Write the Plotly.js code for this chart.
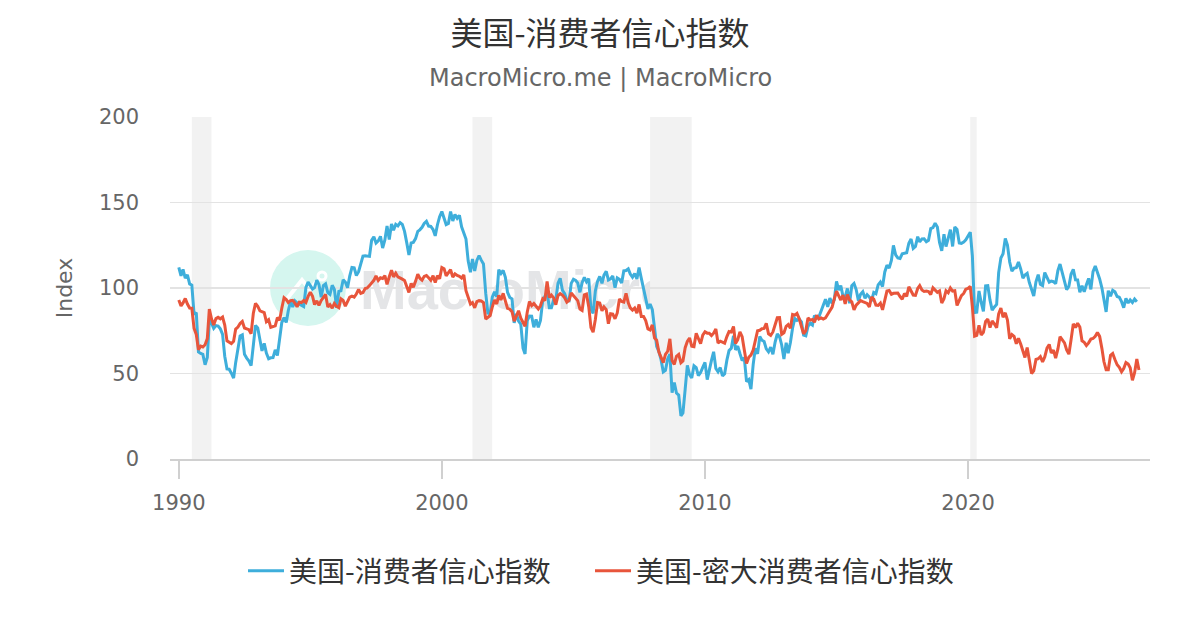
<!DOCTYPE html>
<html>
<head>
<meta charset="utf-8">
<script src="https://cdn.plot.ly/plotly-3.0.1.min.js"></script>
<style>
  html, body { margin:0; padding:0; background:#ffffff; }
  #wrap { position:relative; width:1200px; height:630px; }
  #wm { position:absolute; left:0; top:0; width:1200px; height:630px; z-index:0; pointer-events:none; }
  #wm .logo { position:absolute; left:270px; top:250px; width:76px; height:76px; border-radius:50%; background:#d5f6ef; }
  #wm .txt { position:absolute; left:360px; top:258px; line-height:64px; font-family:"Liberation Sans","DejaVu Sans",sans-serif; font-weight:bold; font-size:56px; color:#e4e5e7; }
  #chart { position:absolute; left:0; top:0; width:1200px; height:630px; z-index:1; }
</style>
</head>
<body>
<div id="wrap">
  <div id="wm">
    <div class="logo">
      <svg width="76" height="76" viewBox="0 0 76 76"><polyline points="16,50 32,30 40,40 46,32" fill="none" stroke="#ffffff" stroke-width="4"/><circle cx="52" cy="26" r="4" fill="none" stroke="#ffffff" stroke-width="3"/></svg>
    </div>
    <div class="txt">MacroMicro</div>
  </div>
  <div id="chart"></div>
</div>
<script>
// Monthly series starting January 1990
const startYear = 1990;
const seriesNames = ['美国-消费者信心指数', '美国-密大消费者信心指数'];

// Conference Board consumer confidence (blue)
const confBoard = [
  112.1,107.1,110.9,105.7,107.7,102.4,101.7,84.7,85.6,62.6,61.7,61.2,
  55.1,59.4,81.1,79.4,76.4,78.0,77.7,76.1,72.9,60.1,52.7,52.5,
  50.2,47.3,56.5,65.1,71.9,72.6,61.2,59.0,57.3,54.6,65.6,78.1,
  76.7,68.5,63.2,67.6,61.9,58.6,59.2,59.3,63.8,60.5,71.9,79.8,
  82.6,79.9,86.7,92.1,88.9,92.5,91.3,90.4,89.5,89.1,100.4,103.4,
  101.4,99.4,100.2,104.6,102.0,94.6,101.4,102.4,97.3,96.3,101.6,99.2,
  88.4,98.0,98.4,104.8,103.5,100.1,107.0,112.0,111.8,107.3,109.5,114.2,
  118.7,118.9,118.5,118.5,127.9,129.9,126.3,127.6,130.2,123.4,128.1,136.2,
  128.3,137.4,133.8,137.2,136.3,138.2,137.2,133.1,126.4,119.3,126.4,126.7,
  128.9,133.1,134.0,135.5,137.7,139.0,136.2,136.0,134.2,130.5,137.0,141.7,
  144.7,140.8,137.1,137.7,144.7,139.2,143.0,140.8,142.5,135.8,132.6,128.6,
  115.7,109.2,116.9,109.9,116.1,118.9,116.3,114.0,97.0,85.3,84.9,94.6,
  97.8,95.0,110.7,108.5,110.3,106.3,97.4,94.5,93.7,79.6,84.9,80.7,
  78.8,64.8,61.4,81.0,83.6,83.5,77.0,81.7,77.0,81.1,92.5,94.8,
  97.7,88.5,88.5,93.0,93.1,102.8,105.7,98.7,96.7,92.9,92.6,102.7,
  105.1,104.4,103.0,97.5,103.1,106.2,103.6,105.5,87.5,85.2,98.3,103.8,
  106.8,102.7,107.5,109.8,104.7,105.4,107.0,100.2,105.9,105.1,102.9,110.0,
  110.2,111.2,108.2,106.3,108.5,105.3,111.9,105.6,99.5,95.2,87.8,90.6,
  87.3,76.4,65.9,62.8,58.1,51.0,51.9,58.5,61.4,38.8,44.7,38.6,
  37.4,25.3,26.9,40.8,54.8,49.3,47.4,54.5,53.4,48.7,50.6,53.6,
  56.5,46.4,52.5,57.7,62.7,52.9,51.0,53.5,48.6,49.9,57.8,63.4,
  64.8,72.0,63.8,66.0,61.7,57.6,59.2,45.2,46.4,40.9,55.2,64.8,
  61.5,71.6,69.5,68.7,64.4,62.7,65.4,61.3,68.4,73.1,71.5,66.7,
  58.4,68.0,61.9,68.1,76.6,82.1,81.0,81.8,80.2,72.4,72.0,77.5,
  79.4,78.3,83.9,82.3,83.0,86.4,90.3,93.4,89.0,94.1,91.0,93.1,
  103.8,98.8,101.4,95.2,94.6,99.8,91.0,101.3,102.6,99.1,92.6,96.3,
  97.8,94.0,96.1,94.7,92.4,97.4,96.7,101.8,103.5,100.8,109.4,113.3,
  111.6,116.1,124.9,119.4,117.6,117.3,120.0,120.4,120.6,126.2,128.6,123.1,
  124.3,130.0,127.0,128.7,128.8,127.1,127.9,134.7,135.3,137.9,135.7,126.6,
  121.7,131.4,124.2,129.2,134.1,124.3,135.7,134.2,126.3,126.1,126.8,128.2,
  130.4,132.6,118.8,85.7,85.9,98.3,91.7,86.3,101.3,101.4,92.9,87.1,
  88.9,90.4,109.0,117.5,120.0,128.9,125.1,115.2,109.8,111.6,111.9,115.2,
  111.1,105.7,107.6,108.6,103.2,98.4,95.3,103.6,107.8,102.2,101.4,109.0,
  106.0,103.4,104.0,103.7,102.5,110.1,114.0,108.7,104.3,99.1,101.0,108.0,
  110.9,104.8,104.7,97.5,101.3,97.8,101.9,105.6,99.2,109.6,112.8,109.5,
  105.3,100.1,93.9,86.0,98.4,95.2,98.7,97.8,95.0,94.6,92.0,88.5,
  94.0,91.2,93.0,91.5,93.5,92.0
];

// University of Michigan consumer sentiment (red)
const umich = [
  93.0,89.5,91.3,93.9,90.6,88.3,88.2,76.4,72.8,63.9,66.0,65.5,
  66.8,70.4,87.7,81.8,78.3,82.1,82.9,82.0,83.0,78.3,69.1,68.2,
  67.5,68.8,76.0,77.2,79.2,80.4,76.6,76.1,75.6,73.3,85.3,91.0,
  89.3,86.6,85.9,85.6,80.3,81.5,77.0,77.3,77.9,82.7,81.2,88.2,
  94.3,93.2,91.5,92.6,92.8,91.2,89.0,91.7,91.5,92.7,91.6,95.1,
  97.6,95.1,90.3,92.5,89.8,92.7,94.4,96.2,88.9,90.2,88.2,91.0,
  89.3,88.5,93.7,92.7,89.4,92.4,94.7,95.3,94.7,96.5,99.2,96.9,
  97.4,99.7,100.0,101.4,103.2,104.5,107.1,104.4,106.0,105.6,107.2,102.1,
  106.6,110.4,106.5,108.7,106.5,105.6,105.2,104.4,100.9,97.4,102.7,100.5,
  103.9,108.1,105.7,104.6,106.8,107.3,106.0,104.5,107.2,103.2,107.2,105.4,
  112.0,111.3,107.1,109.2,110.7,106.4,108.3,107.3,106.8,105.8,107.6,98.4,
  94.7,90.6,91.5,88.4,92.0,92.6,92.4,91.5,81.8,82.7,83.9,88.8,
  93.0,90.7,95.7,93.0,96.9,92.4,88.1,87.6,86.1,80.6,84.2,86.7,
  82.4,79.9,77.6,86.0,92.1,89.7,90.9,89.3,87.7,89.6,93.7,92.6,
  103.8,94.4,95.8,94.2,90.2,95.6,96.7,95.9,94.2,91.7,92.8,97.1,
  95.5,94.1,92.6,87.7,86.9,96.0,96.5,89.1,76.9,74.2,81.6,91.5,
  91.2,86.7,88.9,87.4,79.1,84.9,84.7,82.0,85.4,93.6,92.1,91.7,
  96.9,91.3,88.4,87.1,88.3,85.3,90.4,83.4,83.4,80.9,76.1,75.5,
  78.4,70.8,69.5,62.6,59.8,56.4,61.2,63.0,70.3,57.6,55.3,60.1,
  61.2,56.3,57.3,65.1,68.7,70.8,66.0,65.7,73.5,70.6,67.4,72.5,
  74.4,73.6,73.6,72.2,73.6,76.0,67.8,68.9,68.2,67.7,71.6,74.5,
  74.2,77.5,67.5,69.8,74.3,71.5,63.7,55.8,59.5,60.8,63.7,69.9,
  75.0,75.3,76.2,76.4,79.3,73.2,72.3,74.3,78.3,82.6,82.7,72.9,
  73.8,77.6,78.6,76.4,84.5,84.1,85.1,82.1,77.5,73.2,75.1,82.5,
  81.2,81.6,80.0,84.1,81.9,82.5,81.8,82.5,84.6,86.9,88.8,93.6,
  98.1,95.4,93.0,95.9,90.7,96.1,93.1,91.9,87.2,90.0,91.3,92.6,
  92.0,91.7,91.0,89.0,94.7,93.5,90.0,89.8,91.2,87.2,93.8,98.2,
  98.5,96.3,96.9,97.0,97.1,95.0,93.4,96.8,95.1,100.7,98.5,95.9,
  95.7,99.7,101.4,98.8,98.0,98.2,97.9,96.2,100.1,98.6,97.5,98.3,
  91.2,93.8,98.4,97.2,100.0,98.2,98.4,89.8,93.2,95.5,96.8,99.3,
  99.8,101.0,89.1,71.8,72.3,78.1,72.5,74.1,80.4,81.8,76.9,80.7,
  79.0,76.8,84.9,88.3,82.9,85.5,81.2,70.3,72.8,71.7,67.4,70.6,
  67.2,62.8,59.4,65.2,58.4,50.0,51.5,58.2,58.6,59.9,56.8,59.7,
  64.9,67.0,62.0,63.7,59.0,64.2,71.5,69.5,67.9,63.8,61.3,69.7,
  79.0,76.9,79.4,77.2,69.1,68.2,66.4,67.9,70.1,70.5,71.8,74.0,
  71.7,64.7,57.0,52.2,52.2,60.7,61.7,58.2,55.1,53.6,51.0,52.9,
  56.4,55.5,53.3,46.0,50.5,58.5,52.0
];

// Recession periods (start, end)
const recessions = [
  ['1990-07-01','1991-03-31'],
  ['2001-03-01','2001-11-30'],
  ['2007-12-01','2009-06-30'],
  ['2020-02-01','2020-04-30']
];

function monthDates(n) {
  const out = [];
  for (let i = 0; i < n; i++) {
    const y = startYear + Math.floor(i / 12);
    const m = (i % 12) + 1;
    out.push(y + '-' + (m < 10 ? '0' + m : m) + '-01');
  }
  return out;
}

const FONT = '"DejaVu Sans", "Noto Sans CJK SC", sans-serif';
const CJK = '"Noto Sans CJK SC", "DejaVu Sans", sans-serif';

const traces = [
  { x: monthDates(confBoard.length), y: confBoard, type: 'scatter', mode: 'lines',
    name: seriesNames[0], legendwidth: 296, line: { color: '#3eaedb', width: 3 } },
  { x: monthDates(umich.length), y: umich, type: 'scatter', mode: 'lines',
    name: seriesNames[1], line: { color: '#e8553b', width: 3 } }
];

const shapes = recessions.map(r => ({
  type: 'rect', xref: 'x', yref: 'paper', x0: r[0], x1: r[1], y0: 0, y1: 1,
  fillcolor: '#f2f2f2', line: { width: 0 }, layer: 'below'
}));

const layout = {
  width: 1200, height: 630,
  paper_bgcolor: 'rgba(0,0,0,0)', plot_bgcolor: 'rgba(0,0,0,0)',
  margin: { l: 170, r: 50, t: 117, b: 171 },
  font: { family: FONT, color: '#666666', size: 20 },
  title: { text: '美国-消费者信心指数', x: 0.5, xanchor: 'center', y: 1 - 34 / 630, yanchor: 'middle',
           font: { family: CJK, size: 32, color: '#333333' } },
  annotations: [
    { text: 'MacroMicro.me | MacroMicro', xref: 'paper', yref: 'paper', x: (600 - 170) / 980, y: 1,
      yshift: 39, showarrow: false, xanchor: 'center', yanchor: 'middle',
      font: { family: FONT, size: 24, color: '#666666' } }
  ],
  shapes: shapes,
  xaxis: {
    type: 'date', range: ['1989-09-01', '2026-12-01'],
    tick0: '1990-01-01', dtick: 'M120', tickformat: '%Y',
    showgrid: false, showline: true, linecolor: '#d0d0d0', linewidth: 1.5,
    ticks: 'outside', ticklen: 18, tickcolor: '#d0d0d0', tickwidth: 1.5,
    ticklabelstandoff: 6,
    tickfont: { size: 21, color: '#666666' }, zeroline: false
  },
  yaxis: {
    range: [0, 200], dtick: 50, showgrid: true, gridcolor: '#e3e3e3', gridwidth: 1.5,
    zeroline: false, ticks: '', tickfont: { size: 21, color: '#666666' },
    ticklabelstandoff: 30,
    title: { text: 'Index', font: { size: 22, color: '#666666' }, standoff: 20 }
  },
  showlegend: true,
  legend: { orientation: 'h', xref: 'container', yref: 'container', x: 0.5 + 1 / 1200, xanchor: 'center',
            y: 1 - 571 / 630, yanchor: 'middle',
            font: { family: CJK, size: 28, color: '#333333' }, itemwidth: 36,
            tracegroupgap: 0, bgcolor: 'rgba(0,0,0,0)' }
};

Plotly.newPlot('chart', traces, layout, { displayModeBar: false, staticPlot: true });
</script>
</body>
</html>
